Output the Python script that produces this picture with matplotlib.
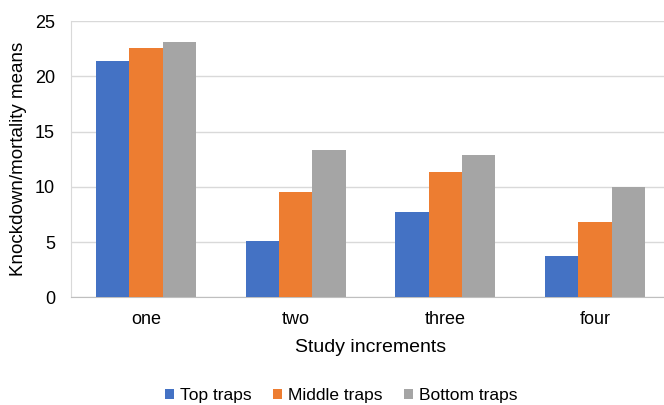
import matplotlib.pyplot as plt
import numpy as np

plt.rcParams['font.family'] = ['Liberation Sans', 'DejaVu Sans']

# Mean knockdown/mortality per study increment and trap height
increments = ['one', 'two', 'three', 'four']
top_traps = [21.4, 5.1, 7.7, 3.7]
middle_traps = [22.6, 9.5, 11.3, 6.8]
bottom_traps = [23.1, 13.3, 12.9, 10.0]

series = [('Top traps', top_traps, '#4472C4'),
          ('Middle traps', middle_traps, '#ED7D31'),
          ('Bottom traps', bottom_traps, '#A5A5A5')]

fig = plt.figure(figsize=(6.64, 4.05), dpi=100)
# plot area runs a little past the right edge of the figure
ax = fig.add_axes([71 / 664, 1 - 297.3 / 405, 599 / 664, 276.3 / 405])

ind = np.arange(len(increments))
width = 0.2225
for i, (name, vals, color) in enumerate(series):
    ax.bar(ind + (i - 1) * width, vals, width, label=name, color=color, zorder=3)

ax.set_xlim(-0.5, len(increments) - 0.5)
ax.set_ylim(0, 25)
ax.set_yticks(np.arange(0, 26, 5))
ax.set_xticks(ind)
ax.set_xticklabels(increments)

ax.grid(True, axis='y', color='#D9D9D9', linewidth=1.0, zorder=0)
for side in ['top', 'right']:
    ax.spines[side].set_visible(False)
ax.spines['left'].set_color('#D9D9D9')
ax.spines['bottom'].set_color('#BFBFBF')
ax.tick_params(axis='both', length=0, labelsize=13, colors='#000000')
ax.tick_params(axis='y', pad=11.5)
ax.tick_params(axis='x', pad=10)

ax.set_ylabel('Knockdown/mortality means', fontsize=13.5, labelpad=6)
ax.set_xlabel('Study increments', fontsize=14, labelpad=8)

fig.legend(loc='center', bbox_to_anchor=(341 / 664, 1 - 395.5 / 405), ncol=3,
           frameon=False, fontsize=12.5, handlelength=0.5, handleheight=0.5,
           handletextpad=0.35, columnspacing=1.25)

fig.savefig('out.png', dpi=100)
